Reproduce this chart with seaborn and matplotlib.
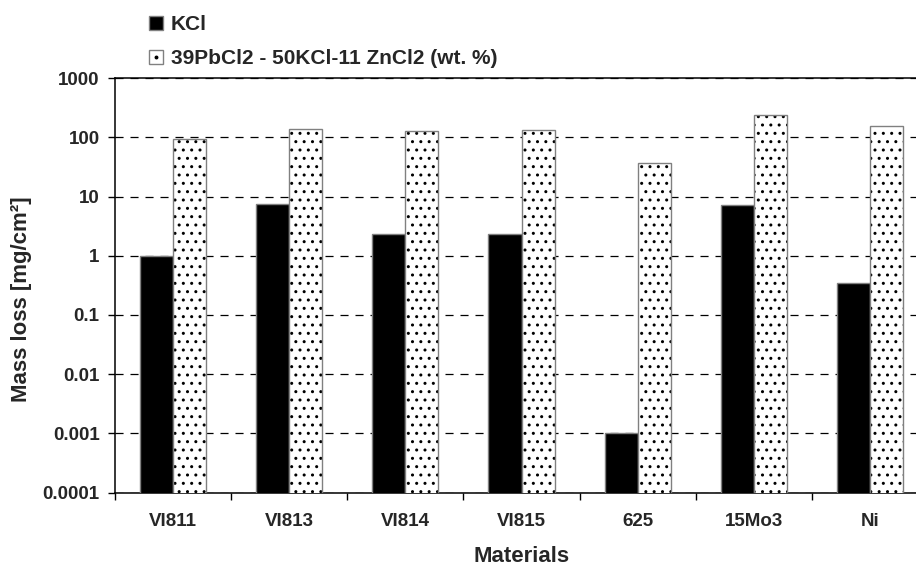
import matplotlib
matplotlib.use('Agg')
import matplotlib.pyplot as plt
import seaborn as sns
import pandas as pd
import numpy as np
from matplotlib.lines import Line2D
from matplotlib.legend_handler import HandlerTuple
from matplotlib.colors import to_rgba
from matplotlib.ticker import NullLocator

# ---- data ----
materials = ['VI811', 'VI813', 'VI814', 'VI815', '625', '15Mo3', 'Ni']
kcl = [0.98, 7.6, 2.33, 2.33, 0.001, 7.3, 0.346]
pbcl_mix = [96, 138, 128, 133, 36.8, 244, 157]
series_names = ['KCl', '39PbCl2 - 50KCl-11 ZnCl2 (wt. %)']
ytick_vals = [0.0001, 0.001, 0.01, 0.1, 1, 10, 100, 1000]
ytick_labels = ['0.0001', '0.001', '0.01', '0.1', '1', '10', '100', '1000']

df = pd.DataFrame({
    'Material': materials * 2,
    'Series': [series_names[0]] * len(materials) + [series_names[1]] * len(materials),
    'Value': kcl + pbcl_mix,
})

sns.set_style('white')
plt.rcParams['font.family'] = ['Liberation Sans', 'DejaVu Sans']
plt.rcParams['font.weight'] = 'bold'
plt.rcParams['axes.labelweight'] = 'bold'
plt.rcParams['lines.scale_dashes'] = False

W, H = 916, 568
fig = plt.figure(figsize=(W / 100, H / 100), dpi=100)
ax = fig.add_axes([115 / W, 75.5 / H, 813 / W, 414.2 / H])
ax.set_yscale('log')

sns.barplot(data=df, x='Material', y='Value', hue='Series', order=materials,
            hue_order=series_names, palette=['black', 'white'], width=0.57,
            gap=0, saturation=1, edgecolor='#808080', linewidth=1.0,
            ax=ax, legend=False, zorder=3)

for p in ax.containers[1]:
    p.set_hatch('..')
    p.set_facecolor('white')
    p.set_edgecolor('#808080')
    try:
        p.set_hatchcolor('black')
    except AttributeError:
        p._hatch_color = to_rgba('black')

ax.set_ylim(1e-4, 1e3)
ax.set_xlim(-0.5, len(materials) - 0.5)

ax.set_yticks(ytick_vals, ytick_labels)
ax.yaxis.set_minor_locator(NullLocator())
ax.tick_params(axis='y', which='major', left=True, length=5, width=1,
               direction='out', pad=6, labelsize=13.5, color='black')

ax.set_xticks(range(len(materials)), materials)
ax.set_xticks(np.arange(-0.5, len(materials), 1), minor=True)
ax.tick_params(axis='x', which='major', bottom=True, length=0, pad=14.5,
               labelsize=13.5)
ax.tick_params(axis='x', which='minor', bottom=True, length=5, width=1,
               direction='out', color='black')

ax.set_axisbelow(True)
ax.grid(False)
ax.yaxis.grid(True, which='major', color='black', linestyle=(0, (5.8, 5.0)),
              linewidth=0.9)

for s in ['left', 'bottom', 'top', 'right']:
    ax.spines[s].set_visible(True)
    ax.spines[s].set_color('black')
    ax.spines[s].set_linewidth(1.1)

ax.set_xlabel('Materials', fontsize=16, fontweight='bold')
ax.xaxis.set_label_coords(0.5, -0.1285)
ax.set_ylabel('Mass loss [mg/cm²]', fontsize=16, fontweight='bold')
ax.yaxis.set_label_coords(-0.102, 0.467)

h1 = Line2D([], [], marker='s', markersize=10, markerfacecolor='black',
            markeredgecolor='#808080', linestyle='none')
h2a = Line2D([], [], marker='s', markersize=10, markerfacecolor='white',
             markeredgecolor='#808080', linestyle='none')
h2b = Line2D([], [], marker='o', markersize=1.8, markerfacecolor='black',
             markeredgecolor='black', linestyle='none')
fig.legend([h1, (h2a, h2b)], series_names, loc='upper left',
           bbox_to_anchor=(148.7 / W, 1 - 15 / H), frameon=False,
           prop={'size': 15, 'weight': 'bold'}, handlelength=0.7,
           handletextpad=0.35, labelspacing=0.74, borderpad=0,
           borderaxespad=0, handler_map={tuple: HandlerTuple(ndivide=1)})

fig.savefig('out.png', dpi=100)
